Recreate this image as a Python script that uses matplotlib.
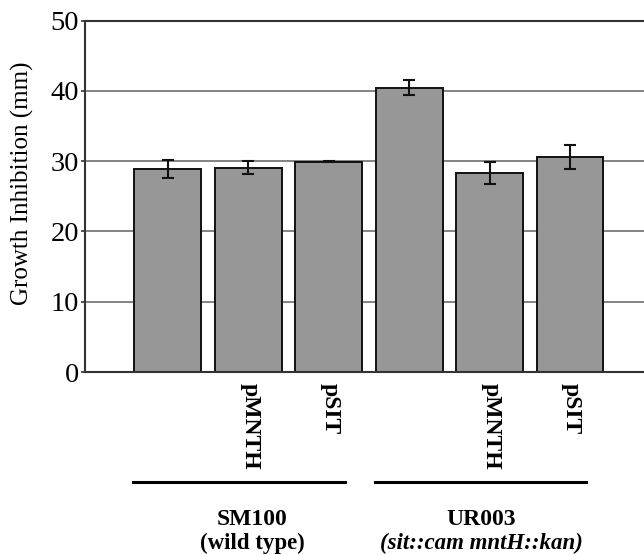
import numpy as np
import matplotlib
matplotlib.use('Agg')
import matplotlib.pyplot as plt
import matplotlib.transforms as mtransforms

# ── Datos ──────────────────────────────────────────────
bar_labels = ['', 'pMNTH', 'pSIT', '', 'pMNTH', 'pSIT']
values     = [28.9, 29.1, 29.9, 40.45, 28.3, 30.6]
errors     = [1.25, 0.95, 0.08, 1.05, 1.55, 1.75]
groups     = ['SM100', 'UR003']
group_sub  = ['(wild type)', '(sit::cam mntH::kan)']
group_bars = [(0, 2), (3, 5)]
y_ticks    = [0, 10, 20, 30, 40, 50]

plt.rcParams['font.family'] = ['Liberation Serif', 'DejaVu Serif']

fig = plt.figure(figsize=(6.44, 5.55), dpi=100)
ax = fig.add_axes([0.132, 0.3297, 0.868, 0.633])

x = np.arange(len(values))
ax.set_axisbelow(True)
for yv in y_ticks[1:-1]:
    ax.axhline(yv, color='#6e6e6e', lw=1.2, zorder=0)

ax.bar(x, values, width=0.83, color='#979797', edgecolor='#111111', lw=1.4, zorder=2)
ax.errorbar(x, values, yerr=errors, fmt='none', ecolor='#111111',
            elinewidth=1.5, capsize=4, capthick=1.5, zorder=3)

ax.set_xlim(-1.03, 5.92)
ax.set_ylim(0, 50)
ax.set_yticks(y_ticks)
ax.set_xticks([])
ax.tick_params(axis='y', labelsize=20.5, length=3, width=1.2, pad=1.5, color='#333333')
for s in ['left', 'top', 'bottom']:
    ax.spines[s].set_color('#333333')
    ax.spines[s].set_linewidth(1.5)
ax.spines['right'].set_visible(False)

ax.set_ylabel('Growth Inhibition (mm)', fontsize=18)
ax.yaxis.set_label_coords(-0.092, 0.537)

trans = mtransforms.blended_transform_factory(ax.transData, ax.transAxes)

# etiquetas rotadas bajo cada barra
for xi, lbl in zip(x, bar_labels):
    if lbl:
        ax.text(xi + 0.02, -0.03, lbl, transform=trans, rotation=-90,
                ha='center', va='top', fontsize=17, fontweight='bold')

# líneas y nombres de grupo
label_off = [0.05, -0.1]
for (a, b), g, sub, off in zip(group_bars, groups, group_sub, label_off):
    ax.plot([a - 0.43, b + 0.2], [-0.313, -0.313], transform=trans,
            color='black', lw=2.2, clip_on=False)
    xm = (a + b) / 2 + off
    ax.text(xm, -0.42, g, transform=trans, ha='center', va='center',
            fontsize=17, fontweight='bold')
    style = 'italic' if '::' in sub else 'normal'
    ax.text(xm, -0.488, sub, transform=trans, ha='center', va='center',
            fontsize=16.5, fontweight='bold', fontstyle=style)

fig.savefig('out.png', dpi=100)
